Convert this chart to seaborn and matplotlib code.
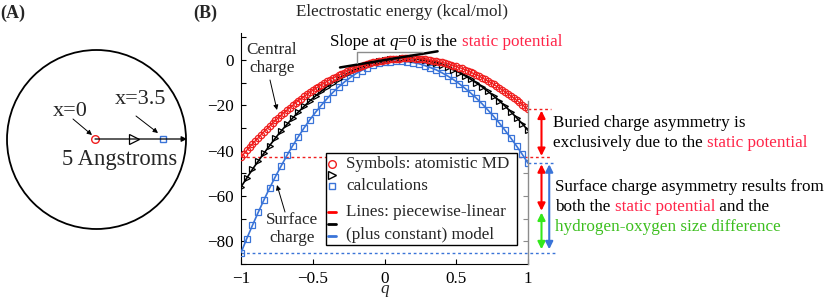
import numpy as np
import matplotlib
matplotlib.use("Agg")
import matplotlib.pyplot as plt
import seaborn as sns
from matplotlib.lines import Line2D
from matplotlib.patches import Circle, Rectangle

# charge values: MD points for the central charge are denser
q_central = np.linspace(-1, 1, 101)
q_coarse = np.linspace(-1, 1, 51)

# electrostatic energy (kcal/mol)
energy_central = [
    -42.8, -41.3, -39.8, -38.4, -37.0, -35.6, -34.3, -32.9, -31.6, -30.3,
    -29.1, -27.8, -26.6, -25.5, -24.3, -23.2, -22.1, -21.0, -20.0, -18.9,
    -17.9, -17.0, -16.0, -15.1, -14.2, -13.3, -12.5, -11.7, -10.9, -10.1,
    -9.4, -8.6, -8.0, -7.3, -6.7, -6.1, -5.5, -4.9, -4.4, -3.9,
    -3.4, -2.9, -2.5, -2.1, -1.7, -1.4, -1.0, -0.7, -0.5, -0.2,
    0.0, 0.2, 0.4, 0.5, 0.6, 0.7, 0.8, 0.8, 0.9, 0.8,
    0.8, 0.7, 0.7, 0.5, 0.4, 0.2, 0.0, -0.2, -0.4, -0.7,
    -1.0, -1.3, -1.6, -2.0, -2.4, -2.8, -3.3, -3.7, -4.2, -4.8,
    -5.3, -5.9, -6.5, -7.1, -7.8, -8.5, -9.2, -9.9, -10.7, -11.5,
    -12.3, -13.1, -14.0, -14.9, -15.8, -16.7, -17.7, -18.7, -19.7, -20.7,
    -21.8,
]
energy_middle = [
    -56.0, -52.1, -48.2, -44.6, -41.1, -37.7, -34.4, -31.3, -28.4, -25.6,
    -22.9, -20.4, -18.0, -15.8, -13.7, -11.7, -9.9, -8.2, -6.7, -5.3,
    -4.1, -3.0, -2.0, -1.2, -0.5, 0.0, 0.4, 0.6, 0.8, 0.8,
    0.6, 0.3, -0.1, -0.7, -1.4, -2.2, -3.2, -4.3, -5.5, -6.9,
    -8.4, -10.1, -11.8, -13.8, -15.8, -18.0, -20.3, -22.8, -25.4, -28.1,
    -31.0,
]
energy_surface = [
    -85.0, -78.8, -72.9, -67.2, -61.7, -56.4, -51.4, -46.7, -42.1, -37.8,
    -33.8, -29.9, -26.3, -23.0, -19.9, -17.0, -14.3, -11.9, -9.7, -7.8,
    -6.0, -4.6, -3.3, -2.3, -1.5, -1.0, -0.7, -0.5, -0.5, -0.7,
    -1.1, -1.6, -2.4, -3.3, -4.3, -5.6, -7.0, -8.6, -10.4, -12.4,
    -14.5, -16.8, -19.3, -22.0, -24.8, -27.8, -31.0, -34.4, -37.9, -41.6,
    -45.5,
]
static_potential = 10.5

RED = "#f01e1e"
RED_TXT = "#ff2448"
BLUE = "#3a74d8"
GREEN_TXT = "#3cbf1e"
GREEN = "#33e81a"
GRAY = "#8c8c8c"

W, H = 830, 300


def P(x, y):
    # figure pixel (from top-left) -> figure fraction
    return x / W, 1 - y / H


sns.set_style("ticks")
plt.rcParams["font.family"] = ["Liberation Serif", "DejaVu Serif"]
plt.rcParams["font.size"] = 12.3

fig = plt.figure(figsize=(W / 100, H / 100), dpi=100)

# ---------------- panel A: sketch of the sphere ----------------
axA = fig.add_axes([0, 0, 220 / W, 1])
axA.set_xlim(0, 220)
axA.set_ylim(300, 0)
axA.axis("off")
axA.add_patch(Circle((96.5, 139.5), 89.5, fill=False, ec="black", lw=1.3))
axA.annotate("", xy=(187, 139), xytext=(95, 139),
             arrowprops=dict(arrowstyle="-|>", color="black", lw=0.9, mutation_scale=8,
                             shrinkA=0, shrinkB=0))
axA.plot([95], [139], marker="o", ms=5.5, mfc="white", mec=RED, mew=1.0)
axA.plot([134], [139], marker=">", ms=6.5, mfc="white", mec="black", mew=0.9)
axA.plot([163], [139], marker="s", ms=4.5, mfc="white", mec=BLUE, mew=1.0)
axA.text(70, 112, "x=0", fontsize=16, ha="center", va="center")
axA.text(141, 99, "x=3.5", fontsize=16, ha="center", va="center")
axA.text(120, 160, "5 Angstroms", fontsize=16.3, ha="center", va="center")
axA.annotate("", xy=(92, 135), xytext=(73, 119),
             arrowprops=dict(arrowstyle="-|>", color="black", lw=0.7, mutation_scale=7,
                             shrinkA=0, shrinkB=0))
axA.annotate("", xy=(158, 133), xytext=(136, 116),
             arrowprops=dict(arrowstyle="-|>", color="black", lw=0.7, mutation_scale=7,
                             shrinkA=0, shrinkB=0))
fig.text(*P(0, 13), "(A)", fontsize=13, fontweight="bold", ha="left", va="center")
fig.text(*P(193, 13), "(B)", fontsize=13, fontweight="bold", ha="left", va="center")

# ---------------- panel B: energy curves ----------------
ax = fig.add_axes([241 / W, 36 / H, 287 / W, 231.1 / H])

sns.lineplot(x=q_coarse, y=energy_surface, ax=ax, color=BLUE, lw=1.2,
             marker="s", markersize=4.2, markerfacecolor="none", markeredgecolor=BLUE,
             markeredgewidth=0.9, errorbar=None, zorder=3)
sns.lineplot(x=q_coarse, y=energy_middle, ax=ax, color="black", lw=1.2,
             marker=">", markersize=5.0, markerfacecolor="none", markeredgecolor="black",
             markeredgewidth=0.9, errorbar=None, zorder=4)
sns.lineplot(x=q_central, y=energy_central, ax=ax, color=RED, lw=1.0,
             marker="o", markersize=4.6, markerfacecolor="none", markeredgecolor=RED,
             markeredgewidth=0.9, errorbar=None, zorder=5)

ax.set_xlim(-1, 1)
ax.set_ylim(-90, 12)
ax.set_xticks([-1, -0.5, 0, 0.5, 1])
ax.set_xticklabels(["\u22121", "\u22120.5", "0", "0.5", "1"])
ax.set_yticks([-80, -60, -40, -20, 0])
ax.set_yticks(np.arange(-90, 11, 10), minor=True)
ax.tick_params(which="both", direction="in", length=3.5, width=0.8, colors="black",
               labelsize=12.3, pad=5)
ax.tick_params(axis="x", which="minor", bottom=False)
for side in ["top", "right"]:
    ax.spines[side].set_visible(False)
for side in ["left", "bottom"]:
    ax.spines[side].set_linewidth(0.8)
    ax.spines[side].set_color("black")
ax.set_xlabel("q", fontstyle="italic", fontsize=12.3, labelpad=-4)
ax.set_ylabel("")

# partial right-hand frame in gray
ax2 = ax.twinx()
ax2.set_ylim(ax.get_ylim())
for side in ["top", "left", "bottom"]:
    ax2.spines[side].set_visible(False)
ax2.spines["right"].set_color(GRAY)
ax2.spines["right"].set_linewidth(1.0)
ax2.spines["right"].set_bounds(-90, -18)
ax2.set_yticks([-80, -70, -60, -50])
ax2.tick_params(direction="in", length=3.5, width=0.8, colors=GRAY, labelright=False)

# tangent at q = 0 (slope = static potential)
q_tan = np.array([-0.31, 0.37])
ax.plot(q_tan, static_potential * q_tan, color="black", lw=1.8, zorder=6)
ax.plot([-0.19, -0.19, 0.27], [-1.3, 3.5, 3.5], color=GRAY, lw=1.0, zorder=6)

# reference dotted lines and asymmetry arrows
e_c_neg, e_c_pos = energy_central[0], energy_central[-1]
e_s_neg, e_s_pos = energy_surface[0], energy_surface[-1]
dots = (0, (2, 2))
ax.plot([-1, 1.16], [e_c_neg, e_c_neg], color=RED, lw=1.0, ls=dots, clip_on=False, zorder=2)
ax.plot([1, 1.16], [e_c_pos, e_c_pos], color=RED, lw=1.0, ls=dots, clip_on=False, zorder=2)
ax.plot([-1, 1.19], [e_s_neg, e_s_neg], color=BLUE, lw=1.0, ls=dots, clip_on=False, zorder=2)
ax.plot([1, 1.19], [e_s_pos, e_s_pos], color=BLUE, lw=1.0, ls=dots, clip_on=False, zorder=2)

static_gap = e_c_pos - e_c_neg


def dbl_arrow(x, y0, y1, color):
    ax.annotate("", xy=(x, y1), xytext=(x, y0), annotation_clip=False,
                arrowprops=dict(arrowstyle="<|-|>", color=color, lw=1.5, mutation_scale=11,
                                shrinkA=0, shrinkB=0))


dbl_arrow(1.094, e_c_pos - 0.5, e_c_neg + 0.5, "#ff0000")
dbl_arrow(1.094, e_s_pos - 0.5, e_s_pos - static_gap, "#ff0000")
dbl_arrow(1.094, e_s_pos - static_gap - 0.8, e_s_neg + 1.5, GREEN)
dbl_arrow(1.148, e_s_pos - 0.5, e_s_neg + 1.5, BLUE)

# ---------------- text ----------------
fig.text(*P(402, 12), "Electrostatic energy (kcal/mol)", ha="center", va="center", fontsize=12.3)


def text_run(x, y, parts, size=12.3):
    t = None
    for s, c, st in parts:
        if t is None:
            t = fig.text(*P(x, y), s, color=c, fontstyle=st, fontsize=size, ha="left", va="center")
        else:
            t = ax.annotate(s, xy=(1, 0), xycoords=t, color=c, fontstyle=st, fontsize=size,
                            ha="left", va="bottom", annotation_clip=False)
    return t


text_run(330, 42, [("Slope at ", "black", "normal"), ("q", "black", "italic"),
                   ("=0 is the ", "black", "normal"), ("static potential", RED_TXT, "normal")])
text_run(553, 123, [("Buried charge asymmetry is", "black", "normal")])
text_run(553, 143, [("exclusively due to the ", "black", "normal"),
                    ("static potential", RED_TXT, "normal")])
text_run(555, 187, [("Surface charge asymmetry results from", "black", "normal")])
text_run(555, 207, [("both the ", "black", "normal"), ("static potential", RED_TXT, "normal"),
                    (" and the", "black", "normal")])
text_run(555, 227, [("hydrogen-oxygen size difference", GREEN_TXT, "normal")])

fig.text(*P(272, 59), "Central\ncharge", ha="center", va="center", fontsize=12.3,
         linespacing=1.15)
fig.text(*P(292, 229), "Surface\ncharge", ha="center", va="center", fontsize=12.3,
         linespacing=1.15)
arrow_kw = dict(arrowstyle="-|>", color="black", lw=0.7, mutation_scale=7, shrinkA=0, shrinkB=0)
ax.annotate("", xy=P(277, 110), xytext=P(270, 80), xycoords="figure fraction",
            arrowprops=arrow_kw)
ax.annotate("", xy=P(277, 185), xytext=P(285, 212), xycoords="figure fraction",
            arrowprops=arrow_kw)

# ---------------- legend box ----------------
x0, y0 = P(326, 245)
x1, y1 = P(517, 153)
fig.add_artist(Rectangle((x0, y0), x1 - x0, y1 - y0, transform=fig.transFigure,
                         fc="white", ec="black", lw=1.0, zorder=10))
leg_items = [
    (164, dict(marker="o", ms=5.5, mfc="none", mec=RED, mew=1.0, ls="none")),
    (175, dict(marker=">", ms=6.0, mfc="none", mec="black", mew=1.0, ls="none")),
    (186, dict(marker="s", ms=4.8, mfc="none", mec=BLUE, mew=1.0, ls="none")),
]
for yy, kw in leg_items:
    fx, fy = P(332, yy)
    fig.add_artist(Line2D([fx], [fy], transform=fig.transFigure, zorder=11, **kw))
for yy, col in [(212, "#ff0000"), (224, "black"), (236, BLUE)]:
    xa, fy = P(328, yy)
    xb, _ = P(336, yy)
    fig.add_artist(Line2D([xa, xb], [fy, fy], transform=fig.transFigure, color=col,
                          lw=2.0, zorder=11))
for yy, s in [(164, "Symbols: atomistic MD"), (186, "calculations"),
              (212, "Lines: piecewise-linear"), (235, "(plus constant) model")]:
    fig.text(*P(346, yy), s, ha="left", va="center", fontsize=12.3, zorder=12)

fig.savefig("out.png", dpi=100)
